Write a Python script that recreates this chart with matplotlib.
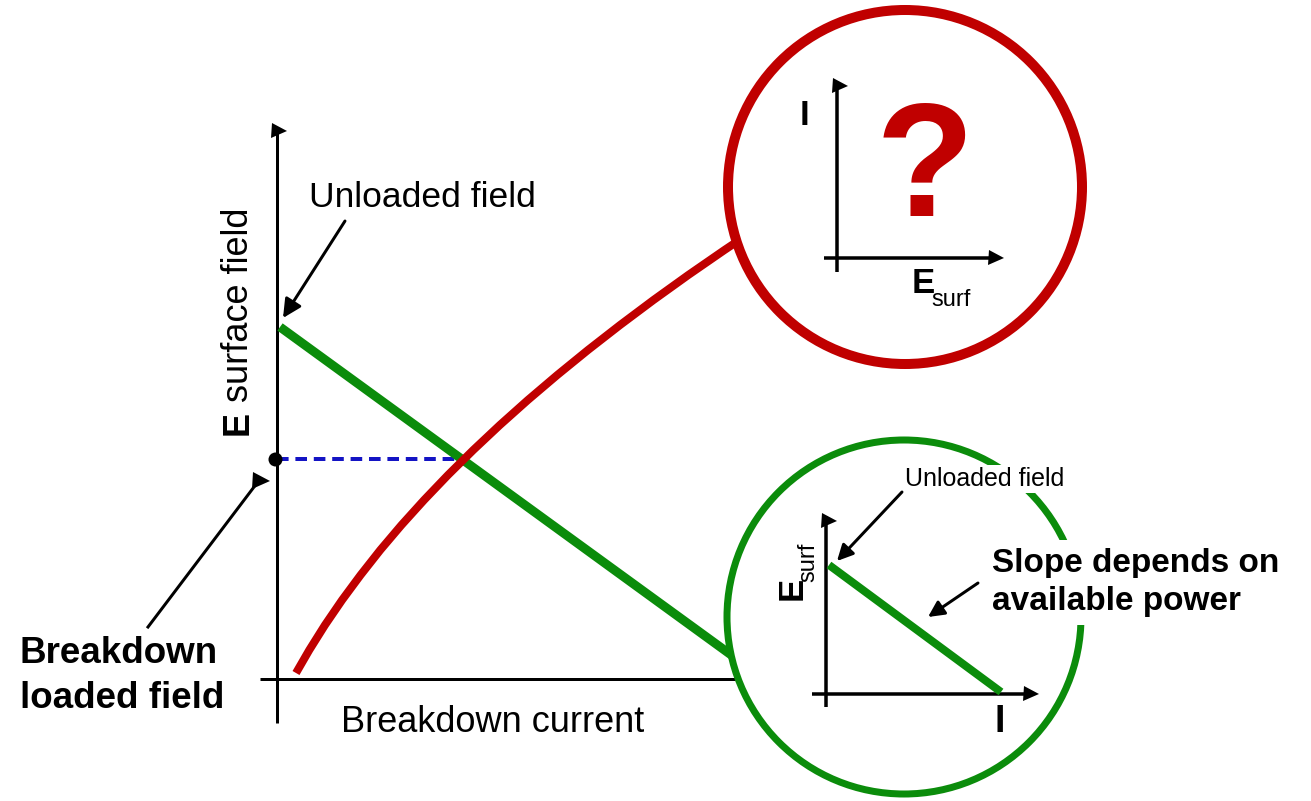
import matplotlib
matplotlib.use('Agg')
import matplotlib.pyplot as plt
from matplotlib.patches import Circle

plt.rcParams['font.family'] = ['Liberation Sans', 'DejaVu Sans']

# ---------------- data (pixel-space diagram coordinates) ----------------
# red curve: breakdown current vs surface field
red_curve_y = [673, 650, 625, 600, 575, 550, 525, 500, 475, 450, 425, 400,
               375, 350, 325, 300, 275, 250, 235]
red_curve_x = [296.0, 309.3, 325.0, 342.1, 360.6, 380.3, 401.5, 424.1, 448.0,
               473.3, 499.9, 527.9, 557.3, 588.0, 620.1, 653.5, 688.3, 724.5, 746.9]
# green load line (unloaded field -> zero)
green_line_x = [280, 745]
green_line_y = [327, 665]
# operating point
op_x = [277, 458]
op_y = [459, 459]

# inset (green) load line
inset_line_x = [829, 1001]
inset_line_y = [565, 692]

# circles: centre x, centre y, radius
red_circle = (905, 187, 177)
green_circle = (904, 617, 177)

RED = '#C00000'
GREEN = '#0B8C0B'
BLUE = '#1414C4'
PX = 0.72  # points per pixel at 100 dpi

fig = plt.figure(figsize=(13.11, 8.01), dpi=100)
ax = fig.add_axes([0, 0, 1, 1])
ax.set_xlim(0, 1311)
ax.set_ylim(801, 0)
ax.axis('off')


def arrow(x0, y0, x1, y1, scale=28):
    ax.annotate('', xy=(x1, y1), xytext=(x0, y0),
                arrowprops=dict(arrowstyle='-|>,head_length=0.4,head_width=0.2',
                                color='black', lw=3 * PX, shrinkA=0, shrinkB=0,
                                mutation_scale=scale),
                zorder=6)


def head(x, y, size=15):
    ax.plot([x], [y], marker='>', ms=size * PX, color='black', mew=0, zorder=6)


# ---------------- main diagram ----------------
ax.plot([277, 277], [128, 723], color='black', lw=3 * PX, solid_capstyle='butt', zorder=2)
ax.plot([260, 760], [679, 679], color='black', lw=3 * PX, solid_capstyle='butt', zorder=2)
head(279, 131)

ax.plot(op_x, op_y, color=BLUE, lw=4 * PX, linestyle=(0, (2.9, 1.7)), zorder=1.5)
ax.plot(green_line_x, green_line_y, color=GREEN, lw=9 * PX, solid_capstyle='butt', zorder=2.2)
ax.plot(red_curve_x, red_curve_y, color=RED, lw=8 * PX, solid_capstyle='butt',
        solid_joinstyle='round', zorder=2.3)
ax.plot([op_x[0] - 2], [op_y[0]], marker='o', ms=14 * PX, color='black', mew=0, zorder=4)

ax.text(309, 207, 'Unloaded field', fontsize=25.5, ha='left', va='baseline', zorder=6)
arrow(345, 221, 283, 318)

ax.text(248, 435, 'E', fontsize=26, fontweight='bold', rotation=90,
        rotation_mode='anchor', ha='left', va='baseline', zorder=6)
ax.text(248, 402, 'surface field', fontsize=26, rotation=90,
        rotation_mode='anchor', ha='left', va='baseline', zorder=6)

ax.text(20, 663, 'Breakdown', fontsize=26.5, fontweight='bold', ha='left', va='baseline', zorder=6)
ax.text(20, 708, 'loaded field', fontsize=26.5, fontweight='bold', ha='left', va='baseline', zorder=6)
ax.plot([148, 257], [627, 483], color='black', lw=3 * PX, zorder=6)
head(261, 481, 17)

ax.text(341, 732, 'Breakdown current', fontsize=26, ha='left', va='baseline', zorder=6)

# ---------------- red circle inset ----------------
cx, cy, r = red_circle
ax.add_patch(Circle((cx, cy), r, facecolor='white', edgecolor=RED, lw=10 * PX, zorder=3))
ax.plot([837, 837], [82, 272], color='black', lw=3.5 * PX, solid_capstyle='butt', zorder=5)
ax.plot([824, 996], [258, 258], color='black', lw=3.5 * PX, solid_capstyle='butt', zorder=5)
head(840, 86)
head(996, 258)
ax.text(804, 125, 'I', fontsize=25, fontweight='bold', ha='center', va='baseline', zorder=6)
ax.text(925, 216, '?', fontsize=116, fontweight='bold', color=RED, ha='center',
        va='baseline', zorder=6)
ax.text(912, 293, 'E', fontsize=25, fontweight='bold', ha='left', va='baseline', zorder=6)
ax.text(931, 306, 'surf', fontsize=17, ha='left', va='baseline', zorder=6)

# ---------------- green circle inset ----------------
cx, cy, r = green_circle
ax.add_patch(Circle((cx, cy), r, facecolor='white', edgecolor=GREEN, lw=7 * PX, zorder=3))
ax.plot([826, 826], [516, 707], color='black', lw=3.5 * PX, solid_capstyle='butt', zorder=5)
ax.plot([812, 1030], [694, 694], color='black', lw=3.5 * PX, solid_capstyle='butt', zorder=5)
head(829, 521)
head(1031, 694)
ax.plot(inset_line_x, inset_line_y, color=GREEN, lw=8 * PX, solid_capstyle='butt', zorder=5.5)

ax.text(802, 600, 'E', fontsize=25, fontweight='bold', rotation=90,
        rotation_mode='anchor', ha='left', va='baseline', zorder=6)
ax.text(814, 582, 'surf', fontsize=17, rotation=90,
        rotation_mode='anchor', ha='left', va='baseline', zorder=6)
ax.text(1000, 732, 'I', fontsize=27, fontweight='bold', ha='center', va='baseline', zorder=6)

ax.text(905, 486, 'Unloaded field', fontsize=18, ha='left', va='baseline',
        bbox=dict(facecolor='white', edgecolor='none', pad=1.5), zorder=5.8)
arrow(902, 492, 837, 561, 24)

ax.text(992, 572, 'Slope depends on', fontsize=24, fontweight='bold', ha='left',
        va='baseline', bbox=dict(facecolor='white', edgecolor='none', pad=6), zorder=5.8)
ax.text(992, 610, 'available power', fontsize=24, fontweight='bold', ha='left',
        va='baseline', bbox=dict(facecolor='white', edgecolor='none', pad=6), zorder=5.8)
arrow(978, 583, 928, 617, 24)

fig.savefig('out.png', dpi=100, facecolor='white')
